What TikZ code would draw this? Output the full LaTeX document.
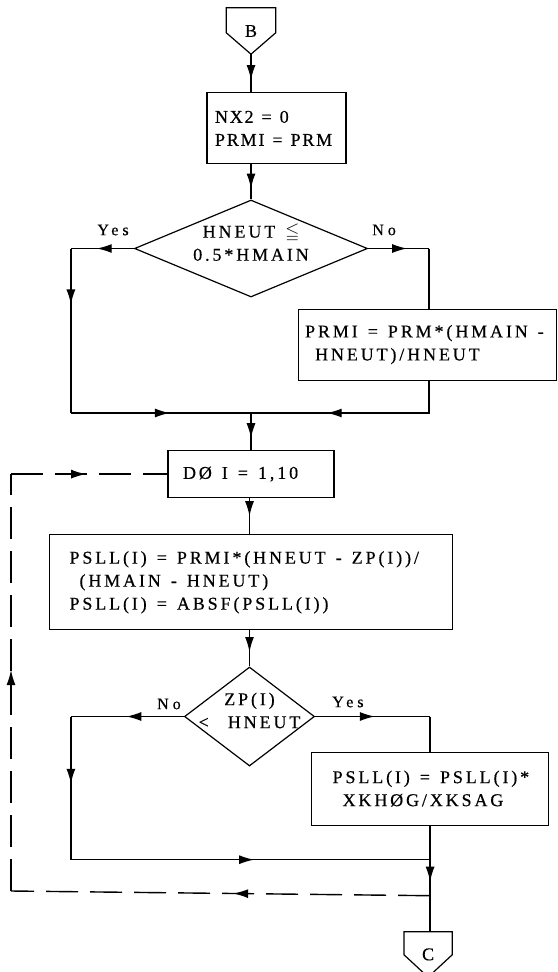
\documentclass[tikz,border=0pt]{standalone}
\usepackage{fontspec}
\usepackage{amssymb}
\setmainfont{Liberation Serif}
\newfontfamily\flowfont{Liberation Serif}[LetterSpace=16, FakeBold=0.5]
\newfontfamily\tightfont{Liberation Serif}[LetterSpace=10, FakeBold=0.5]
\newfontfamily\lblfont{Liberation Serif}[LetterSpace=25, FakeBold=0.5]
\newcommand{\flowtext}{\flowfont\fontsize{18}{23}\selectfont}
\newcommand{\tighttext}{\tightfont\fontsize{18}{23}\selectfont}
\newcommand{\lbltext}{\lblfont\fontsize{16}{18}\selectfont}
\usetikzlibrary{arrows.meta, positioning, shapes.geometric, decorations.markings, calc}

\begin{document}
\begin{tikzpicture}[
    x=1pt, y=-1pt,
    flow/.style={line width=1.4pt},
    loopback/.style={flow, dash pattern=on 32pt off 12pt},
    arrowat/.style={postaction={decorate}, decoration={markings,
        mark=at position #1 with {\arrow{Latex[length=15pt,width=9pt]}}}},
    box/.style={draw, line width=1.2pt, inner ysep=0pt, align=left, font=\flowtext,
        execute at begin node={\spaceskip=10pt plus 2pt\relax}},
    decision/.style={draw, diamond, line width=1.2pt, inner sep=0pt},
    dtext/.style={font=\flowtext, align=center, inner sep=0pt,
        execute at begin node={\spaceskip=10pt plus 2pt\relax}},
    offpage/.style={minimum width=49pt, minimum height=46pt, inner sep=0pt, font=\flowtext},
    lbl/.style={inner sep=0pt, font=\lbltext}
]
    \useasboundingbox (0,0) rectangle (557,972);

    % entry connector
    \node[offpage] (B) at (251,31) {B};
    \draw[line width=1.2pt] (B.north west) -- (B.north east) -- ($(B.north east)+(0,25)$)
        -- (B.south) -- ($(B.north west)+(0,25)$) -- cycle;

    \node[box, font=\tighttext, execute at begin node={\spaceskip=8pt plus 1pt\relax},
        minimum width=139pt, minimum height=71pt, text width=123pt, inner xsep=8pt,
        below=38pt of B.south, xshift=25.5pt] (init) {NX2 = 0\\PRMI = PRM};

    \node[decision, minimum width=233pt, minimum height=97pt,
        below=35pt of init.south, xshift=-25.5pt] (test1) {};
    \node[dtext] (test1txt) at ($(test1)+(0,-6)$) {HNEUT $\leqq$\\0.5*HMAIN};
    \node[lbl, above left=13pt and 5pt of test1.west] (yes1) {Yes};
    \node[lbl, above right=13pt and 4pt of test1.east] (no1) {No};

    \coordinate (yesjog) at ($(test1.west)+(-63,0)$);
    \coordinate (nojog) at ($(test1.east)+(61,0)$);

    \node[box, minimum width=258pt, minimum height=71pt, text width=244pt, inner xsep=7pt,
        below=60pt of nojog, xshift=-2pt] (scale) {PRMI = PRM*(HMAIN -\\\ HNEUT)/HNEUT};

    \coordinate (join1) at (251,413);

    \node[box, minimum width=166pt, minimum height=47pt, text width=136pt, inner xsep=15pt,
        below=37pt of join1] (loop) {DØ I = 1,10};

    \node[box, minimum width=403pt, minimum height=95pt, text width=363pt, inner xsep=20pt,
        below=36pt of loop.south] (calc)
        {PSLL(I) = PRMI*(HNEUT - ZP(I))/\\\ (HMAIN - HNEUT)\\PSLL(I) = ABSF(PSLL(I))};

    \node[decision, minimum width=130pt, minimum height=99pt,
        below=36pt of calc.south, xshift=-1.5pt] (test2) {};
    \node[dtext] (test2txt) at ($(test2)+(0,-6)$) {ZP(I)\\<\hspace{9pt} HNEUT};
    \node[lbl, above left=7pt and 3pt of test2.west] (no2) {No};
    \node[lbl, above right=9pt and 17pt of test2.east] (yes2) {Yes};

    \coordinate (nojog2) at ($(test2.west)+(-113,0)$);
    \coordinate (yesjog2) at ($(test2.east)+(115,0)$);

    \node[box, minimum width=237pt, minimum height=73pt, text width=195pt, inner xsep=21pt,
        below=35pt of yesjog2] (adjust) {PSLL(I) = PSLL(I)*\\\ XKHØG/XKSAG};

    \coordinate (join2) at ($(adjust.south)+(0,34)$);
    \coordinate (dashjoin) at ($(join2)+(0,36)$);
    \coordinate (loopcorner) at (11,891);

    % exit connector
    \node[offpage, minimum width=48pt, minimum height=45pt, below=36pt of dashjoin, xshift=-2pt] (C) {C};
    \draw[line width=1.2pt] (C.north west) -- (C.north east) -- ($(C.north east)+(0,23)$)
        -- (C.south) -- ($(C.north west)+(0,23)$) -- cycle;

    % connectors
    \draw[flow, arrowat=0.68] (B.south) -- (B.south |- init.north);
    \draw[flow, arrowat=0.69] (init.south -| test1) -- (test1.north);
    \draw[flow, arrowat=0.59] (test1.west) -- (yesjog);
    \draw[flow, arrowat=0.34] (yesjog) -- (yesjog |- join1);
    \draw[flow, arrowat=0.55] (yesjog |- join1) -- (join1);
    \draw[flow, arrowat=0.64] (test1.east) -- (nojog);
    \draw[flow] (nojog) -- (scale.north -| nojog);
    \draw[flow, arrowat=0.64] (scale.south -| nojog) -- (nojog |- join1) -- (join1);
    \draw[flow, arrowat=0.68] (join1) -- (loop.north -| join1);
    \draw[flow, arrowat=0.5] (loop.south -| test2) -- (calc.north -| test2);
    \draw[flow, arrowat=0.6] (calc.south -| test2) -- (test2.north);
    \draw[flow, arrowat=0.51] (test2.west) -- (nojog2);
    \draw[flow, arrowat=0.47] (nojog2) -- (nojog2 |- join2);
    \draw[flow, arrowat=0.51] (nojog2 |- join2) -- (join2);
    \draw[flow, arrowat=0.52] (test2.east) -- (yesjog2);
    \draw[flow] (yesjog2) -- (adjust.north -| yesjog2);
    \draw[flow] (adjust.south -| join2) -- (join2);
    \draw[flow, arrowat=0.61] (join2) -- (dashjoin);
    \draw[flow] (dashjoin) -- (C.north -| dashjoin);
    \draw[loopback, arrowat=0.47] (dashjoin) -- (loopcorner);
    \draw[loopback, arrowat=0.53] (loopcorner) -- (loopcorner |- loop.west);
    \draw[loopback, arrowat=0.48] (loopcorner |- loop.west) -- (loop.west);
\end{tikzpicture}
\end{document}
